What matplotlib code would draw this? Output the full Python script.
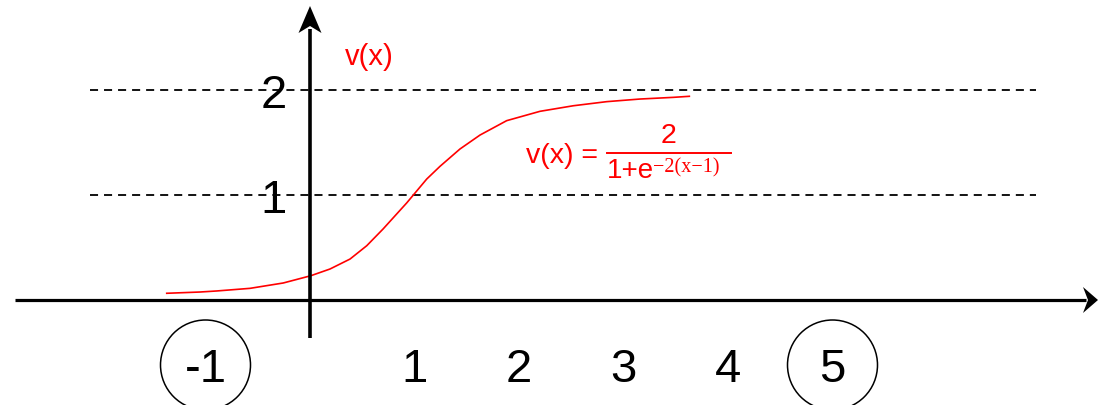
import matplotlib.pyplot as plt
from matplotlib.patches import Ellipse, Polygon

plt.rcParams['font.family'] = ['Liberation Sans', 'DejaVu Sans']
plt.rcParams['lines.scale_dashes'] = False

# sigmoid v(x)
curve_x = [-1.371, -1.053, -0.893, -0.574, -0.256, 0.007, 0.191, 0.383, 0.543,
           0.699, 0.925, 1.117, 1.244, 1.435, 1.627, 1.882, 2.201, 2.520,
           2.839, 3.158, 3.477, 3.630]
curve_y = [0.064, 0.076, 0.086, 0.111, 0.162, 0.231, 0.295, 0.390, 0.517,
           0.676, 0.924, 1.152, 1.273, 1.438, 1.571, 1.708, 1.797, 1.850,
           1.889, 1.914, 1.930, 1.940]

x_ticks = [-1, 1, 2, 3, 4, 5]
circled = [-1, 5]
levels = [1, 2]

# drawing scale: pixels per unit and where the origin sits
W, H = 1098, 406
x0_px, y0_px = 310, 301
sx, sy = 104.5, 105.0

def to_data(px, py):
	return (px - x0_px) / sx, (y0_px - py) / sy

fig = plt.figure(figsize=(W / 100, H / 100), dpi=100)
ax = fig.add_axes([0, 0, 1, 1])
left, bottom = to_data(0, H)
right, top = to_data(W, 0)
ax.set_xlim(left, right)
ax.set_ylim(bottom, top)
ax.axis('off')

#dashed guide lines
gx0, _ = to_data(90, 0)
gx1, _ = to_data(1036, 0)
for lv in levels:
	ax.plot([gx0, gx1], [lv, lv], color='black', lw=1.3, dashes=(5.8, 4.3), zorder=1)

#axes with arrowheads
ax_l, _ = to_data(15, 0)
ax_r, _ = to_data(1086, 0)
ax.plot([ax_l, ax_r], [0, 0], color='black', lw=2.3, solid_capstyle='butt', zorder=3)
_, ay_b = to_data(0, 339)
_, ay_t = to_data(0, 30)
ax.plot([0, 0], [ay_b, ay_t], color='black', lw=2.6, solid_capstyle='butt', zorder=3)

head_up = [to_data(310, 7), to_data(298.5, 34), to_data(310, 27), to_data(321.5, 34)]
ax.add_patch(Polygon(head_up, closed=True, color='black', lw=0, zorder=4))
head_right = [to_data(1098, 301), to_data(1083, 288), to_data(1088, 301), to_data(1083, 314)]
ax.add_patch(Polygon(head_right, closed=True, color='black', lw=0, zorder=4))

#curve
ax.plot(curve_x, curve_y, color='red', lw=1.2, zorder=2, solid_joinstyle='round')

#x tick labels
_, base_x = to_data(0, 382)
_, circ_y = to_data(0, 366)
for v in x_ticks:
	ax.text(v, base_x, str(v), fontsize=34, ha='center', va='baseline', zorder=5)
for v in circled:
	ax.add_patch(Ellipse((v, circ_y), 2 * 45 / sx, 2 * 45 / sy, fill=False,
		edgecolor='black', lw=1.1, zorder=5))

#y tick labels sitting on the dashed lines
lx, _ = to_data(274, 0)
for lv in levels:
	ax.text(lx, lv - 17.5 / sy, str(lv), fontsize=34, ha='center', va='baseline', zorder=5)

#v(x) axis title
tx, ty = to_data(345, 65)
ax.text(tx, ty, 'v(x)', color='red', fontsize=21, ha='left', va='baseline')

#formula
tx, ty = to_data(598, 163)
ax.text(tx, ty, 'v(x) =', color='red', fontsize=20.5, ha='right', va='baseline')
tx, ty = to_data(668, 143)
ax.text(tx, ty, '2', color='red', fontsize=20.5, ha='center', va='baseline')
bx0, by = to_data(607, 153.5)
bx1, _ = to_data(731, 153.5)
ax.plot([bx0, bx1], [by, by], color='red', lw=1.4)
tx, ty = to_data(607, 178)
ax.text(tx, ty, '1+e', color='red', fontsize=20, ha='left', va='baseline')
tx, ty = to_data(653, 172)
ax.text(tx, ty, '\u22122(x\u22121)', color='red', fontsize=14.5, family='Liberation Serif',
	ha='left', va='baseline')

plt.savefig('out.png', dpi=100)
